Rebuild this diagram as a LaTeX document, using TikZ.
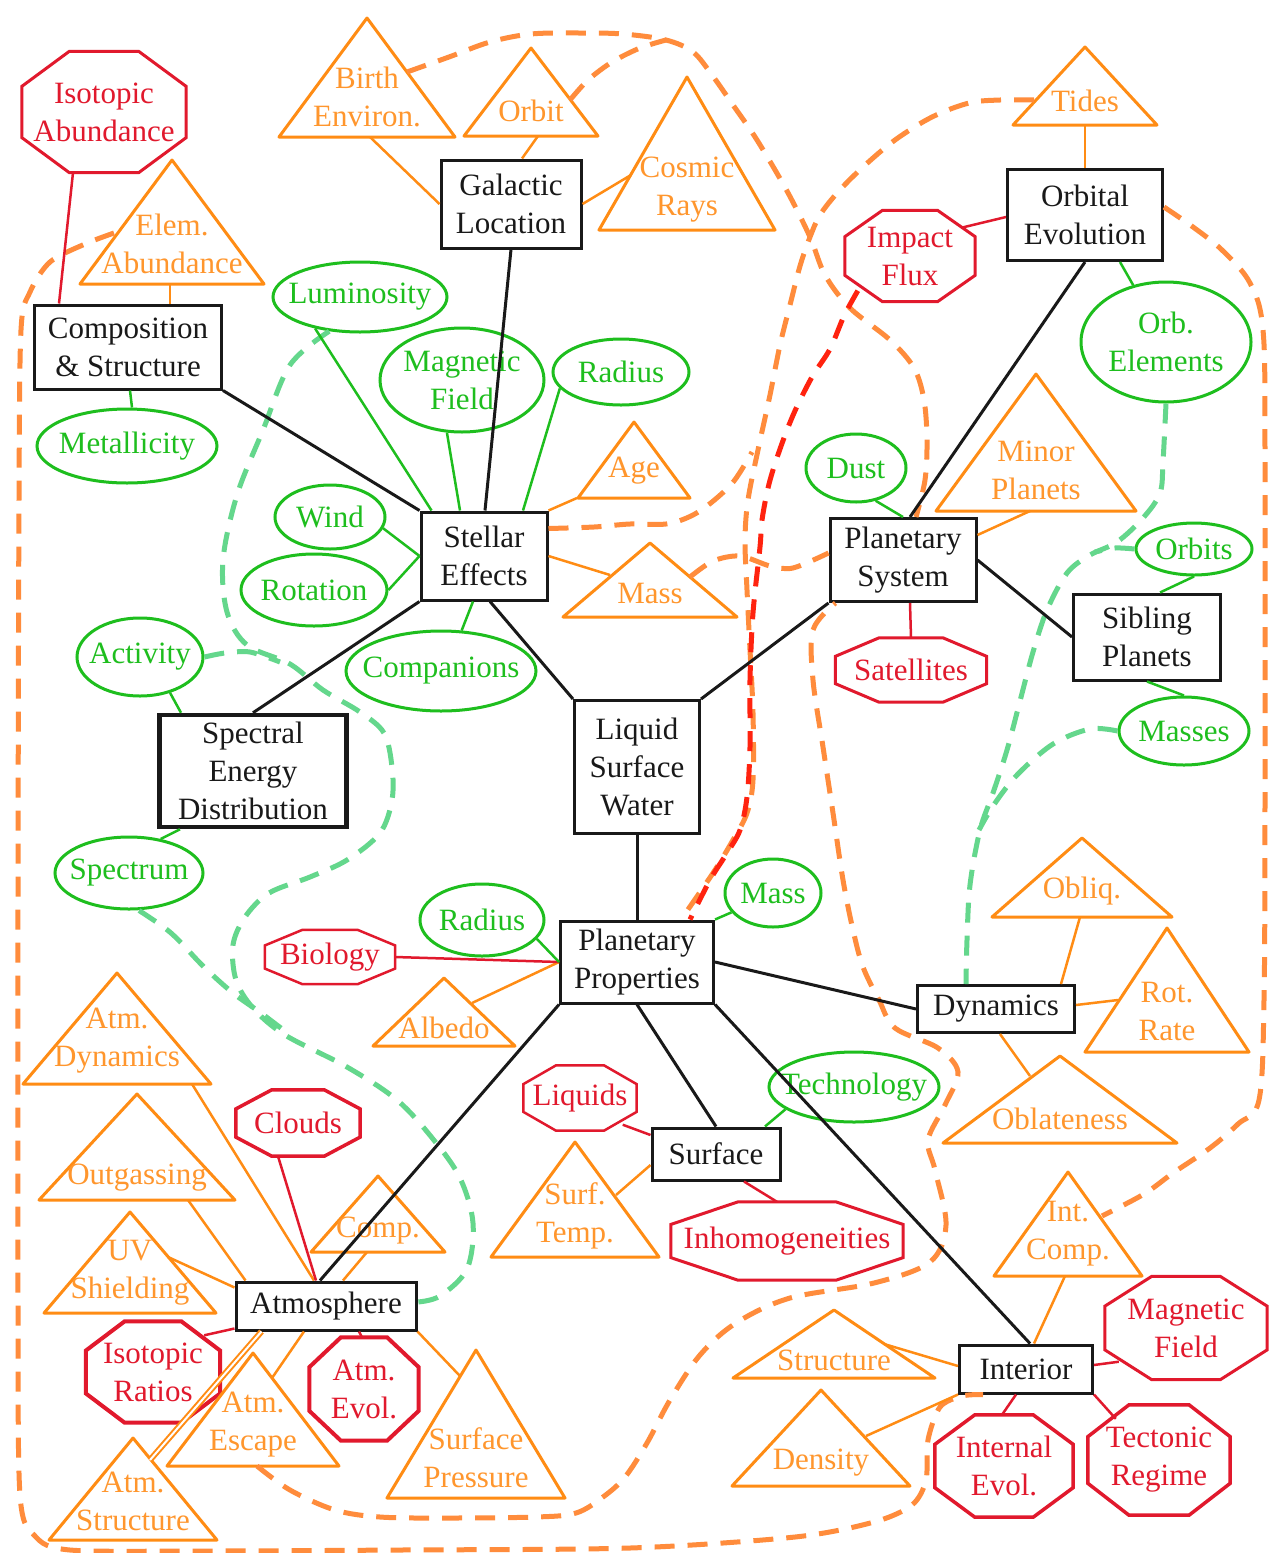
\documentclass[tikz,border=0pt]{standalone}
\usepackage{fontspec}
\setmainfont{Liberation Serif}
\usetikzlibrary{shapes.geometric}
\definecolor{cor}{RGB}{255,140,20}
\definecolor{cortext}{RGB}{255,150,45}
\definecolor{cord}{RGB}{255,140,60}
\definecolor{cred}{RGB}{225,25,45}
\definecolor{credd}{RGB}{255,35,15}
\definecolor{cgr}{RGB}{30,190,30}
\definecolor{cgrd}{RGB}{100,215,140}
\definecolor{cbk}{RGB}{25,25,25}
\tikzset{
 lbl/.style={inner sep=0pt, align=center, font=\fontsize{31}{38}\selectfont},
 rbox/.style={draw=cbk, line width=3pt, inner sep=0pt},
 ell/.style={ellipse, draw=cgr, line width=3pt, inner sep=0pt},
 octl/.style={draw=cred, line join=miter},
 tril/.style={draw=cor, line width=3pt, line join=round},
 trit/.style={lbl, text=cortext},
 bk/.style={draw=cbk, line width=3pt},
 orl/.style={draw=cor, line width=2.5pt},
 rdl/.style={draw=cred, line width=2.5pt},
 grl/.style={draw=cgr, line width=2.5pt},
 od/.style={draw=cord, line width=5pt, dash pattern=on 20pt off 13pt},
 rd/.style={draw=credd, line width=5pt, dash pattern=on 20pt off 13pt},
 gd/.style={draw=cgrd, line width=5pt, dash pattern=on 20pt off 13pt},
}
\newcommand\RB[7][]{\node[rbox,minimum width=#5pt,minimum height=#6pt,label={[lbl,text=cbk]center:#7},#1] (#2) at (#3,#4) {};}
\newcommand\EL[6]{\node[ell,minimum width=#4pt,minimum height=#5pt,label={[lbl,text=cgr]center:#6}] (#1) at (#2,#3) {};}
\newcommand\OC[7][3pt]{%
 \node[inner sep=0pt, minimum width=#5pt, minimum height=#6pt, label={[lbl,text=cred]center:#7}] (#2) at (#3,#4) {};
 \pgfmathsetmacro\ocx{0.29*#5}\pgfmathsetmacro\ocy{0.29*#6}%
 \draw[octl, line width=#1] ([xshift=\ocx pt]#2.north west) -- ([xshift=-\ocx pt]#2.north east) -- ([yshift=-\ocy pt]#2.north east) -- ([yshift=\ocy pt]#2.south east) -- ([xshift=-\ocx pt]#2.south east) -- ([xshift=\ocx pt]#2.south west) -- ([yshift=\ocy pt]#2.south west) -- ([yshift=-\ocy pt]#2.north west) -- cycle;}
\newcommand\TR[7]{\draw[tril] (#2,#3) -- ({#2-#4},#5) -- ({#2+#4},#5) -- cycle; \node[trit] (#1) at (#2,#6) {#7};}
\begin{document}
\begin{tikzpicture}[x=1pt,y=-1pt]
\fill[white] (0,0) rectangle (1269,1553);
\useasboundingbox (0,0) rectangle (1269,1553);

% ---------- boxes
\RB{gal}{511}{204}{140}{88}{Galactic\\Location}
\RB{comp}{128}{347}{187}{84}{Composition\\\& Structure}
\RB{stel}{484}{556}{126}{88}{Stellar\\Effects}
\RB{orbev}{1085}{215}{155}{91}{Orbital\\Evolution}
\RB{psys}{903}{560}{146}{83}{Planetary\\System}
\RB{sib}{1147}{637}{147}{86}{Sibling\\Planets}
\RB[line width=4.5pt]{sed}{253}{771}{187}{112}{Spectral\\Energy\\Distribution}
\RB{lsw}{637}{767}{125}{133}{Liquid\\Surface\\Water}
\RB{pprop}{637}{962}{153}{82}{Planetary\\Properties}
\RB{dyn}{996}{1009}{157}{47}{Dynamics}
\RB{surf}{716}{1154}{128}{52}{Surface}
\RB{atm}{326}{1306}{180}{48}{Atmosphere}
\RB{intr}{1026}{1369}{133}{48}{Interior}

% ---------- ellipses
\EL{lum}{360}{297}{174}{70}{Luminosity}
\EL{magfs}{462}{380}{164}{104}{Magnetic\\Field}
\EL{rads}{621}{372}{136}{66}{Radius}
\EL{metal}{127}{446}{180}{74}{Metallicity}
\EL{wind}{330}{517}{110}{64}{Wind}
\EL{rotn}{314}{590}{146}{72}{Rotation}
\EL{act}{140}{657}{126}{78}{Activity}
\EL{compn}{441}{671}{190}{80}{Companions}
\EL{spec}{129}{873}{148}{72}{Spectrum}
\EL{dust}{856}{468}{100}{68}{Dust}
\EL{orbel}{1166}{342}{170}{120}{Orb.\\Elements}
\EL{orbits}{1194}{549}{116}{52}{Orbits}
\EL{masses}{1184}{731}{130}{68}{Masses}
\EL{radp}{482}{920}{124}{72}{Radius}
\EL{massp}{773}{893}{96}{68}{Mass}
\EL{tech}{854}{1087}{170}{70}{Technology}

% ---------- octagons
\OC{isoab}{104}{112}{164}{121}{Isotopic\\Abundance}
\OC{impact}{910}{256}{130}{91}{Impact\\Flux}
\OC{sat}{911}{670}{151}{64}{Satellites}
\OC[2.5pt]{bio}{330}{957}{130}{54}{Biology}
\OC[2.5pt]{liq}{580}{1098}{113}{65}{Liquids}
\OC[3.5pt]{clouds}{298}{1123}{124}{66}{Clouds}
\OC{inh}{787}{1241}{232}{78}{Inhomogeneities}
\OC[4pt]{isorat}{153}{1372}{134}{101}{Isotopic\\Ratios}
\OC[4pt]{atmevol}{364}{1389}{109}{103}{Atm.\\Evol.}
\OC{magf}{1186}{1328}{162}{103}{Magnetic\\Field}
\OC[3.5pt]{intevol}{1004}{1466}{138}{102}{Internal\\Evol.}
\OC[3.5pt]{tect}{1159}{1460}{142}{110}{Tectonic\\Regime}

% ---------- triangles
\TR{birth}{367}{18}{88}{137}{97}{Birth\\Environ.}
\TR{orbit}{531}{48}{67}{136}{111}{Orbit}
\TR{cosmic}{687}{77}{88}{230}{190}{Cosmic\\Rays}
\TR{elem}{172}{160}{92}{284}{244}{Elem.\\Abundance}
\TR{age}{634}{422}{56}{498}{471}{Age}
\TR{masss}{650}{543}{87}{617}{593}{Mass}
\TR{tides}{1085}{47}{72}{125}{101}{Tides}
\TR{minor}{1036}{374}{100}{511}{470}{Minor\\Planets}
\TR{obliq}{1082}{838}{90}{917}{891}{Obliq.}
\TR{rotr}{1167}{928}{82}{1052}{1011}{Rot.\\Rate}
\TR{oblat}{1060}{1056}{117}{1143}{1119}{Oblateness}
\TR{albedo}{444}{978}{71}{1046}{1028}{Albedo}
\TR{atmdyn}{117}{973}{94}{1084}{1041}{Atm.\\Dynamics}
\TR{outg}{137}{1094}{98}{1200}{1178}{Outgassing}
\TR{uv}{130}{1212}{86}{1313}{1273}{UV\\Shielding}
\TR{compa}{378}{1176}{67}{1252}{1231}{Comp.}
\TR{surft}{575}{1142}{84}{1257}{1216}{Surf.\\Temp.}
\TR{escape}{253}{1353}{86}{1466}{1425}{Atm.\\Escape}
\TR{astruct}{133}{1438}{84}{1540}{1501}{Atm.\\Structure}
\TR{spres}{476}{1350}{89}{1498}{1458}{Surface\\Pressure}
\TR{intcomp}{1068}{1172}{74}{1276}{1234}{Int.\\Comp.}
\TR{struct}{834}{1310}{101}{1378}{1360}{Structure}
\TR{dens}{821}{1390}{89}{1486}{1463}{Density}

% contact points on triangles
\coordinate (birth-c) at (370,137);   \coordinate (birth-d) at (407,72);
\coordinate (orbit-c) at (538,136);   \coordinate (orbit-d) at (570,100);
\coordinate (cosmic-c) at (631,175);
\coordinate (elem-c) at (170,284);    \coordinate (elem-d) at (114,233);
\coordinate (age-c) at (577,498);
\coordinate (masss-c) at (610,575);   \coordinate (masss-d) at (690,577);
\coordinate (tides-c) at (1085,125);  \coordinate (tides-d) at (1034,100);
\coordinate (minor-c) at (1030,511);
\coordinate (obliq-c) at (1080,917);
\coordinate (rotr-c) at (1118,1000);
\coordinate (oblat-c) at (1030,1076);
\coordinate (albedo-c) at (472,1003);
\coordinate (atmdyn-c) at (192,1084);
\coordinate (outg-c) at (188,1200);
\coordinate (uv-c) at (168,1257);
\coordinate (compa-c) at (367,1252);
\coordinate (surft-c) at (616,1195);
\coordinate (escape-c) at (272,1378); \coordinate (escape-d) at (257,1466);
\coordinate (astruct-c) at (150,1460);
\coordinate (spres-c) at (460,1376);
\coordinate (intcomp-c) at (1065,1276); \coordinate (intcomp-d) at (1102,1216);
\coordinate (struct-c) at (884,1344);
\coordinate (dens-c) at (866,1436);

% ---------- dashed curves
\draw[od] plot[smooth,tension=0.5] coordinates {(elem-d) (85,244) (50,262) (30,292) (21,330) (19,500) (18,900) (18,1300) (20,1495) (35,1536) (70,1550) (200,1551) (400,1550) (630,1548) (795,1537) (874,1522) (912,1505) (926,1480) (928,1440) (940,1407) (962,1396) ([xshift=25pt]intr.south west)};
\draw[od] plot[smooth,tension=0.55] coordinates {(escape-d) (290,1490) (335,1510) (380,1517) (446,1518) (536,1517) (576,1513) (603,1497) (625,1477) (647,1443) (670,1400) (700,1355) (736,1323) (790,1298) (874,1283) (930,1262) (946,1225) (935,1170) (928,1140) (945,1105) (958,1072) (938,1048) (895,1028) (879,1000) (863,967) (853,930) (843,880) (833,813) (823,747) (813,680) (813,630) ([xshift=7pt]psys.south west)};
\draw[od] plot[smooth,tension=0.55] coordinates {(birth-d) (449,57) (490,42) (531,34) (580,33) (623,34) (666,40) (693,52) (712,75) (733,105) (757,140) (787,191) (810,237) (825,275) (850,308) (890,340) (914,368) (924,400) (927,440) (925,480) ([xshift=13pt]psys.north)};
\draw[od] plot[smooth,tension=0.5] coordinates {(orbit-d) (588,80) (612,62) (640,48) (666,40)};
\draw[od] plot[smooth,tension=0.55] coordinates {(tides-d) (1000,100) (969,103) (932,117) (895,140) (863,167) (838,192) (820,215) (810,237) (800,266) (790,305) (780,345) (770,395) (758,450) (748,500) (745,540) (747,590) (750,650) (753,713) (753,780) (747,813) (733,840) (713,873) ([xshift=44pt]pprop.north)};
\draw[od] plot[smooth,tension=0.55] coordinates {([yshift=-18pt]stel.north east) (594,527) (630,524) (666,524) (691,516) (712,502) (734,481) (752,452)};
\draw[od] plot[smooth,tension=0.5] coordinates {(masss-d) (713,561) (740,556) (770,566) (793,568) ([yshift=7pt]psys.west)};
\draw[od] plot[smooth,tension=0.55] coordinates {([yshift=8pt]orbev.east) (1193,227) (1222,250) (1250,283) (1263,330) (1265,450) (1265,800) (1264,1000) (1259,1100) (1238,1124) (1210,1148) (1173,1173) (1144,1194) (intcomp-d)};
\draw[rd] plot[smooth,tension=0.55] coordinates {([xshift=13pt,yshift=11pt]impact.south west) (844,316) (830,349) (812,377) (794,413) (780,449) (769,484) (762,520) (760,547) (753,613) (750,680) (750,747) (747,797) (740,830) (727,853) (710,880) ([xshift=53pt]pprop.north)};
\draw[gd] plot[smooth,tension=0.55] coordinates {(lum.228) (290,365) (263,430) (237,495) (223,560) (227,612) (247,645) (290,664) (323,690) (360,712) (384,733) (392,767) (392,800) (380,833) (347,860) (310,877) (269,893) (245,917) (233,945) (236,980) (253,1008) (285,1035) (347,1067) (397,1100) (433,1139) (460,1178) (473,1223) (467,1269) (440,1296) ([yshift=4pt]atm.east)};
\draw[gd] plot[smooth,tension=0.5] coordinates {(act.east) (225,653) (250,652) (280,662)};
\draw[gd] plot[smooth,tension=0.55] coordinates {([xshift=10pt]spec.south) (171,933) (204,967) (233,993) (261,1013) (290,1035)};
\draw[gd] plot[smooth,tension=0.55] coordinates {(orbel.south) (1163,462) (1160,493) (1143,518) (1117,542) (1090,555) (1067,573) (1047,610) (1033,652) (1020,701) (1007,750) (993,793) (980,830) (970,885) (967,940) ([xshift=-30pt]dyn.north)};
\draw[gd] plot[smooth,tension=0.5] coordinates {(orbits.west) (1115,548) (1095,552)};
\draw[gd] plot[smooth,tension=0.55] coordinates {(masses.west) (1090,729) (1053,744) (1017,775) (993,806) (979,830)};

% ---------- black connectors
\draw[bk] (gal.south) -- ([xshift=1pt]stel.north);
\draw[bk] (comp.south east) -- (stel.north west);
\draw[bk] (stel.south west) -- (sed.north);
\draw[bk] ([xshift=6pt]stel.south) -- (lsw.north west);
\draw[bk] (lsw.north east) -- (psys.south west);
\draw[bk] ([xshift=7pt]psys.north) -- (orbev.south);
\draw[bk] (psys.east) -- (sib.west);
\draw[bk] (lsw.south) -- (pprop.north);
\draw[bk] (pprop.east) -- (dyn.west);
\draw[bk] (pprop.south) -- (surf.north);
\draw[bk] (pprop.south east) -- ([xshift=4pt]intr.north);
\draw[bk] (pprop.south west) -- ([xshift=-6pt]atm.north);

% ---------- orange connectors
\draw[orl] (birth-c) -- (gal.west);
\draw[orl] (orbit-c) -- ([xshift=11pt]gal.north);
\draw[orl] (cosmic-c) -- (gal.east);
\draw[orl] (elem-c) -- ([xshift=42pt]comp.north);
\draw[orl] (age-c) -- (stel.north east);
\draw[orl] (masss-c) -- (stel.east);
\draw[orl] (tides-c) -- (orbev.north);
\draw[orl] (minor-c) -- ([yshift=-18pt]psys.north east);
\draw[orl] (albedo-c) -- (pprop.west);
\draw[orl] (obliq-c) -- ([xshift=-15pt]dyn.north east);
\draw[orl] (rotr-c) -- ([yshift=4pt]dyn.east);
\draw[orl] (oblat-c) -- ([xshift=4pt]dyn.south);
\draw[orl] (surft-c) -- ([yshift=-11pt]surf.west);
\draw[orl] (atmdyn-c) -- ([xshift=-12pt]atm.north);
\draw[orl] (outg-c) -- ([xshift=11pt]atm.north west);
\draw[orl] (uv-c) -- ([yshift=-7pt]atm.north west);
\draw[orl] (compa-c) -- ([xshift=17pt]atm.north);
\draw[orl, line width=2pt, double=white, double distance=2pt] ([xshift=27pt]atm.south west) -- (astruct-c);
\draw[orl] ([xshift=-22pt]atm.south) -- (escape-c);
\draw[orl] (atm.south east) -- (spres-c);
\draw[orl] (intcomp-c) -- ([xshift=8pt]intr.north);
\draw[orl] (struct-c) -- ([yshift=3pt]intr.west);
\draw[orl] (dens-c) -- (intr.south west);

% ---------- red connectors
\draw[rdl] ([xshift=-31pt]isoab.south) -- ([xshift=26pt]comp.north west);
\draw[rdl] ([xshift=-12pt,yshift=-17pt]impact.north east) -- ([yshift=-2pt]orbev.west);
\draw[rdl] ([xshift=7pt]psys.south) -- (sat.north);
\draw[rdl] (bio.east) -- (pprop.west);
\draw[rdl] ([xshift=-14pt,yshift=6pt]liq.south east) -- ([yshift=19pt]surf.west);
\draw[rdl] ([xshift=28pt]surf.south) -- ([xshift=-10pt]inh.north);
\draw[rdl] ([xshift=-20pt]clouds.south) -- ([xshift=-10pt]atm.north);
\draw[rdl] ([xshift=-16pt,yshift=-14pt]isorat.north east) -- ([yshift=3pt]atm.south west);
\draw[rdl] ([xshift=-2pt]atmevol.north) -- ([xshift=33pt]atm.south);
\draw[rdl] ([xshift=14pt,yshift=18pt]magf.south west) -- ([yshift=4pt]intr.east);
\draw[rdl] ([xshift=-10pt]intr.south) -- ([xshift=-2pt]intevol.north);
\draw[rdl] ([xshift=28pt,yshift=-14pt]tect.north west) -- (intr.south east);

% ---------- green connectors
\draw[grl] (lum.215) -- ([xshift=12pt]stel.north west);
\draw[grl] (magfs.254) -- ([xshift=-24pt]stel.north);
\draw[grl] (rads.195) -- ([xshift=39pt]stel.north);
\draw[grl] ([xshift=2pt]comp.south) -- ([xshift=5pt]metal.north);
\draw[grl] (wind.-12) -- (stel.west);
\draw[grl] (rotn.east) -- (stel.west);
\draw[grl] (compn.63) -- ([xshift=-11pt]stel.south);
\draw[grl] (act.-50) -- ([xshift=-72pt]sed.north);
\draw[grl] (spec.47) -- ([xshift=-73pt]sed.south);
\draw[grl] (dust.-59) -- (psys.north);
\draw[grl] (orbel.120) -- ([xshift=35pt]orbev.south);
\draw[grl] (orbits.south) -- ([xshift=13pt]sib.north);
\draw[grl] (masses.north) -- (sib.south);
\draw[grl] (radp.-19) -- (pprop.west);
\draw[grl] (massp.205) -- (pprop.north east);
\draw[grl] (tech.198) -- ([xshift=49pt]surf.north);
\end{tikzpicture}
\end{document}
